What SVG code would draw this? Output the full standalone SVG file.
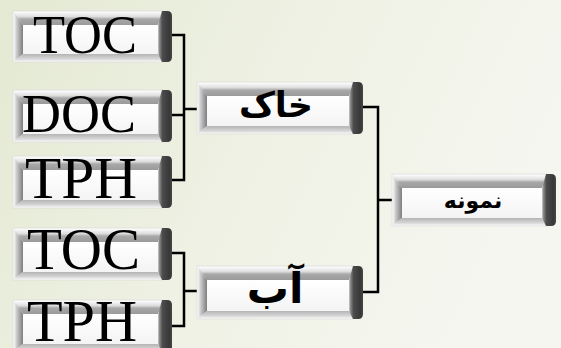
<svg xmlns="http://www.w3.org/2000/svg" width="561" height="348" viewBox="0 0 561 348">
  <defs>
    <linearGradient id="bg" x1="0" y1="0" x2="1" y2="0.3">
      <stop offset="0" stop-color="#e4e9d3"/>
      <stop offset="0.5" stop-color="#eef1e3"/>
      <stop offset="1" stop-color="#f5f6ef"/>
    </linearGradient>
    <linearGradient id="bevTop" x1="0" y1="0" x2="0" y2="1">
      <stop offset="0" stop-color="#fbfbfb"/>
      <stop offset="0.35" stop-color="#dedede"/>
      <stop offset="0.55" stop-color="#a8a8a8"/>
      <stop offset="1" stop-color="#9a9a9a"/>
    </linearGradient>
    <linearGradient id="bevLeft" x1="0" y1="0" x2="1" y2="0">
      <stop offset="0" stop-color="#f6f6f6"/>
      <stop offset="0.3" stop-color="#cacaca"/>
      <stop offset="1" stop-color="#7e7e7e"/>
    </linearGradient>
    <linearGradient id="bevBottom" x1="0" y1="0" x2="0" y2="1">
      <stop offset="0" stop-color="#b4b4b4"/>
      <stop offset="0.7" stop-color="#d6d6d6"/>
      <stop offset="1" stop-color="#f0f0f0"/>
    </linearGradient>
    <linearGradient id="bevRight" x1="0" y1="0" x2="1" y2="0">
      <stop offset="0" stop-color="#cfcfcf"/>
      <stop offset="0.1" stop-color="#8c8c8c"/>
      <stop offset="0.32" stop-color="#4c4c4c"/>
      <stop offset="0.8" stop-color="#383838"/>
      <stop offset="1" stop-color="#454545"/>
    </linearGradient>
    <linearGradient id="face" x1="0" y1="0" x2="0" y2="1">
      <stop offset="0" stop-color="#ffffff"/>
      <stop offset="1" stop-color="#f4f4f4"/>
    </linearGradient>
  </defs>
  <style>
    .rim { fill: #f8f8f8; stroke: #d8d8d8; stroke-width: 0.6; }
    .bt { fill: url(#bevTop); }
    .bl { fill: url(#bevLeft); }
    .bb { fill: url(#bevBottom); }
    .br { fill: url(#bevRight); }
    .face { fill: url(#face); }
    .lat { font-family: "Liberation Serif", "Times New Roman", serif; fill: #000; }
    .fa { font-family: "DejaVu Sans", sans-serif; font-weight: bold; fill: #000; text-anchor: middle; }
    .wire { fill: none; stroke: #000; stroke-width: 2.5; stroke-linecap: square; }
  </style>

  <rect width="561" height="348" fill="url(#bg)"/>

  <!-- connectors -->
  <g id="connectors">
    <path class="wire" d="M172,35 H184 M172,115 H184 M172,180 H184 M184,35 V180 M184,109 H197"/>
    <path class="wire" d="M172,253 H184 M172,326 H184 M184,253 V326 M184,291 H197"/>
    <path class="wire" d="M363,107 H378 M363,292 H378 M378,107 V292 M378,200 H392"/>
  </g>

  <!-- leaf: TOC (soil) -->
  <g id="toc-soil">
    <rect class="rim" x="13" y="11" width="150" height="51"/>
    <polygon class="bt" points="14,12 163,12 158,25 23,25"/>
    <polygon class="bl" points="14,12 23,25 23,54 14,61"/>
    <polygon class="bb" points="23,54 158,54 163,61 14,61"/>
    <rect class="face" x="23" y="25" width="135" height="29"/>
    <path class="br" d="M162,11 H167 Q172,11 172,16 V57 Q172,62 167,62 H162 L158,54 V25 Z"/>
    <text class="lat" x="33" y="53" font-size="54" textLength="104" lengthAdjust="spacingAndGlyphs">TOC</text>
  </g>

  <!-- leaf: DOC -->
  <g id="doc">
    <rect class="rim" x="13" y="90" width="150" height="52"/>
    <polygon class="bt" points="14,91 163,91 158,104 23,104"/>
    <polygon class="bl" points="14,91 23,104 23,134 14,141"/>
    <polygon class="bb" points="23,134 158,134 163,141 14,141"/>
    <rect class="face" x="23" y="104" width="135" height="30"/>
    <path class="br" d="M162,90 H167 Q172,90 172,95 V137 Q172,142 167,142 H162 L158,134 V104 Z"/>
    <text class="lat" x="22" y="132" font-size="55" textLength="114" lengthAdjust="spacingAndGlyphs">DOC</text>
  </g>

  <!-- leaf: TPH (soil) -->
  <g id="tph-soil">
    <rect class="rim" x="13" y="156" width="150" height="52"/>
    <polygon class="bt" points="14,157 163,157 158,170 23,170"/>
    <polygon class="bl" points="14,157 23,170 23,200 14,207"/>
    <polygon class="bb" points="23,200 158,200 163,207 14,207"/>
    <rect class="face" x="23" y="170" width="135" height="30"/>
    <path class="br" d="M162,156 H167 Q172,156 172,161 V203 Q172,208 167,208 H162 L158,200 V170 Z"/>
    <text class="lat" x="25" y="198" font-size="60" textLength="112" lengthAdjust="spacingAndGlyphs">TPH</text>
  </g>

  <!-- leaf: TOC (water) -->
  <g id="toc-water">
    <rect class="rim" x="13" y="228" width="150" height="52"/>
    <polygon class="bt" points="14,229 163,229 158,242 23,242"/>
    <polygon class="bl" points="14,229 23,242 23,272 14,279"/>
    <polygon class="bb" points="23,272 158,272 163,279 14,279"/>
    <rect class="face" x="23" y="242" width="135" height="30"/>
    <path class="br" d="M162,228 H167 Q172,228 172,233 V275 Q172,280 167,280 H162 L158,272 V242 Z"/>
    <text class="lat" x="27" y="269" font-size="60" textLength="113" lengthAdjust="spacingAndGlyphs">TOC</text>
  </g>

  <!-- leaf: TPH (water) -->
  <g id="tph-water">
    <rect class="rim" x="13" y="300" width="150" height="52"/>
    <polygon class="bt" points="14,301 163,301 158,314 23,314"/>
    <polygon class="bl" points="14,301 23,314 23,344 14,351"/>
    <polygon class="bb" points="23,344 158,344 163,351 14,351"/>
    <rect class="face" x="23" y="314" width="135" height="30"/>
    <path class="br" d="M162,300 H167 Q172,300 172,305 V347 Q172,352 167,352 H162 L158,344 V314 Z"/>
    <text class="lat" x="27" y="341" font-size="59" textLength="110" lengthAdjust="spacingAndGlyphs">TPH</text>
  </g>

  <!-- middle: soil -->
  <g id="soil">
    <rect class="rim" x="197" y="82" width="156" height="52"/>
    <polygon class="bt" points="198,83 354,83 349,96 207,96"/>
    <polygon class="bl" points="198,83 207,96 207,126 198,133"/>
    <polygon class="bb" points="207,126 349,126 354,133 198,133"/>
    <rect class="face" x="207" y="96" width="142" height="30"/>
    <path class="br" d="M353,82 H358 Q363,82 363,87 V129 Q363,134 358,134 H353 L349,126 V96 Z"/>
    <text class="fa" x="276" y="117" font-size="35">خاک</text>
  </g>

  <!-- middle: water -->
  <g id="water">
    <rect class="rim" x="197" y="266" width="156" height="53"/>
    <polygon class="bt" points="198,267 354,267 349,280 207,280"/>
    <polygon class="bl" points="198,267 207,280 207,311 198,318"/>
    <polygon class="bb" points="207,311 349,311 354,318 198,318"/>
    <rect class="face" x="207" y="280" width="142" height="31"/>
    <path class="br" d="M353,266 H358 Q363,266 363,271 V314 Q363,319 358,319 H353 L349,311 V280 Z"/>
    <text class="fa" x="275" y="303" font-size="42">آب</text>
  </g>

  <!-- root: sample -->
  <g id="sample">
    <rect class="rim" x="392" y="174" width="155" height="52"/>
    <polygon class="bt" points="393,175 547,175 542,188 402,188"/>
    <polygon class="bl" points="393,175 402,188 402,218 393,225"/>
    <polygon class="bb" points="402,218 542,218 547,225 393,225"/>
    <rect class="face" x="402" y="188" width="140" height="30"/>
    <path class="br" d="M546,174 H551 Q556,174 556,179 V221 Q556,226 551,226 H546 L542,218 V188 Z"/>
    <text class="fa" x="473" y="208" font-size="22">نمونه</text>
  </g>
</svg>
